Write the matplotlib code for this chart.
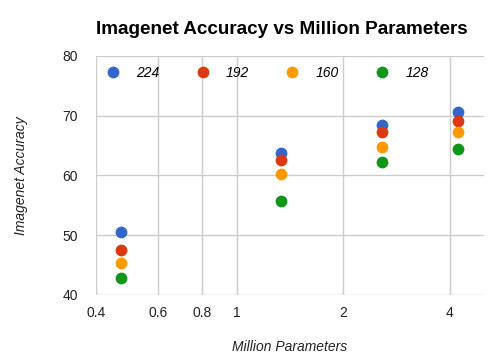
import numpy as np
import matplotlib
matplotlib.use("Agg")
import matplotlib.pyplot as plt
from matplotlib.ticker import FixedLocator, FixedFormatter, NullLocator

plt.rcParams['font.family'] = ['Liberation Sans', 'DejaVu Sans']

# million parameters per width multiplier (0.25, 0.5, 0.75, 1.0)
params = [0.47, 1.33, 2.58, 4.23]
resolutions = ['224', '192', '160', '128']
acc_224 = [50.6, 63.7, 68.4, 70.6]
acc_192 = [47.6, 62.5, 67.3, 69.1]
acc_160 = [45.3, 60.2, 64.7, 67.2]
acc_128 = [42.9, 55.8, 62.2, 64.4]
colors = ['#3366cc', '#dc3912', '#ff9900', '#109618']

xticks = [0.4, 0.6, 0.8, 1, 2, 4]
xtick_labels = ['0.4', '0.6', '0.8', '1', '2', '4']
yticks = [40, 50, 60, 70, 80]

fig = plt.figure(figsize=(4.92, 3.58), dpi=100)
ax = fig.add_axes([0.195, 0.176, 0.789, 0.668])

for res, acc, c in zip(resolutions, [acc_224, acc_192, acc_160, acc_128], colors):
    ax.scatter(params, acc, s=72, color=c, label=res, zorder=3, linewidths=0)

ax.set_xscale('log')
ax.set_xlim(0.4, 5.0)
ax.set_ylim(40, 80)
ax.xaxis.set_major_locator(FixedLocator(xticks))
ax.xaxis.set_major_formatter(FixedFormatter(xtick_labels))
ax.xaxis.set_minor_locator(NullLocator())
ax.set_yticks(yticks)

ax.grid(True, color='#cccccc', linewidth=1)
ax.set_axisbelow(True)
for s in ax.spines.values():
    s.set_visible(False)
ax.tick_params(length=0, labelsize=10, colors='#222222')
ax.tick_params(axis='x', pad=8)
ax.tick_params(axis='y', pad=13)

ax.set_title('Imagenet Accuracy vs Million Parameters', fontsize=13.6,
             fontweight='bold', pad=16, x=0.479)
ax.set_xlabel('Million Parameters', fontsize=10, style='italic', labelpad=14,
              color='#222222')
ax.set_ylabel('Imagenet Accuracy', fontsize=10, style='italic', labelpad=25,
              color='#222222')

leg = ax.legend(ncol=4, loc='upper left', bbox_to_anchor=(0.0, 1.0),
                frameon=False, handlelength=1.0, handletextpad=1.2,
                columnspacing=2.6, prop={'style': 'italic', 'size': 10},
                borderaxespad=0.3, borderpad=0.4, scatteryoffsets=[0.5])

fig.savefig('out.png', dpi=100)
